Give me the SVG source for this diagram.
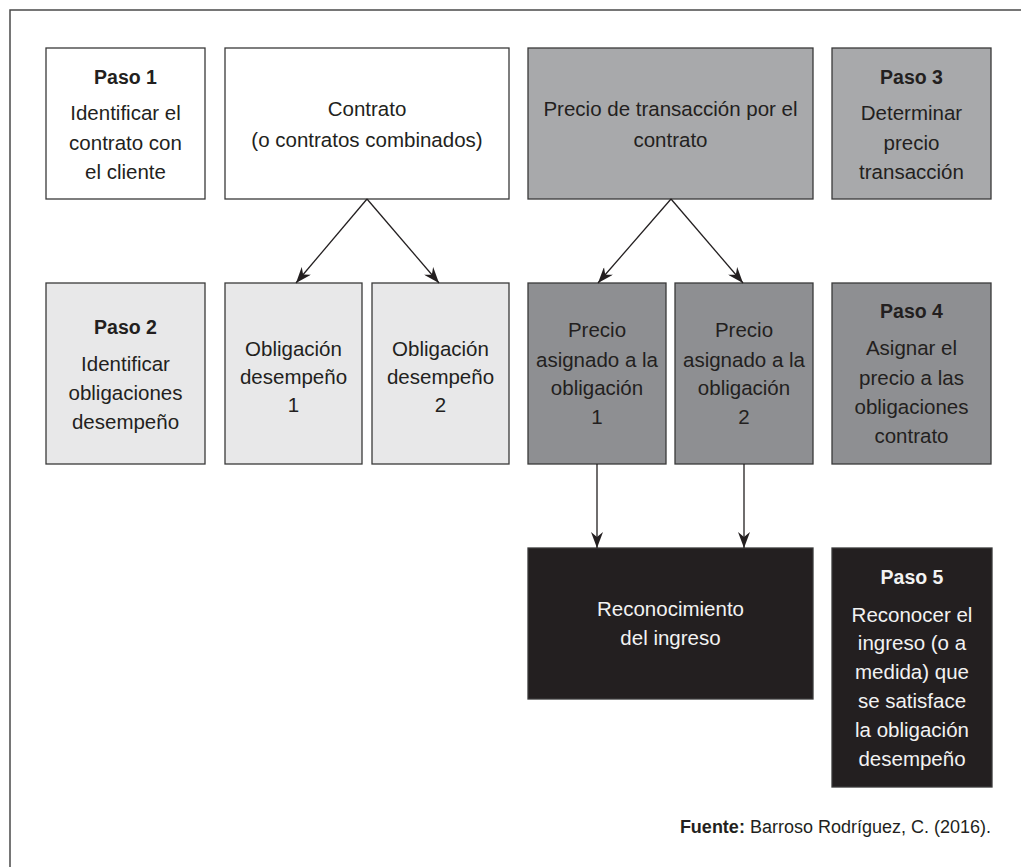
<svg xmlns="http://www.w3.org/2000/svg" width="1021" height="867" viewBox="0 0 1021 867">
<style>
.box{stroke:#3a3a3a;stroke-width:1.3}
.w{fill:#ffffff}
.l{fill:#e8e8e9}
.m{fill:#a8a9ab}
.d{fill:#8e8f92}
.k{fill:#231f20}
text{font-family:"Liberation Sans",Arial,sans-serif;font-size:20.5px;text-anchor:middle;fill:#231f20}
.h{font-weight:bold;font-size:19.5px}
.inv{fill:#f2f2f2}
.conn{stroke:#231f20;stroke-width:1.3;fill:none;marker-end:url(#ah)}
</style>
<defs>
<marker id="ah" viewBox="0 0 16 12" refX="16" refY="6" markerWidth="16" markerHeight="12" markerUnits="userSpaceOnUse" orient="auto">
<path d="M0,0 L16,6 L0,12 L5,6 z" fill="#231f20"/>
</marker>
</defs>
<rect width="1021" height="867" fill="#ffffff"/>
<path d="M10,867 L10,10 L1021,10" fill="none" stroke="#4a4a4a" stroke-width="1.5"/>

<g id="paso1">
<rect class="box w" x="46" y="48" width="159" height="151"/>
<text class="h" x="125.5" y="84">Paso 1</text>
<text x="125.5" y="120">Identificar el</text>
<text x="125.5" y="150">contrato con</text>
<text x="125.5" y="179">el cliente</text>
</g>
<g id="contrato">
<rect class="box w" x="225" y="48" width="284" height="151"/>
<text x="367" y="116">Contrato</text>
<text x="367" y="147">(o contratos combinados)</text>
</g>
<g id="precio-transaccion">
<rect class="box m" x="528" y="48" width="285" height="151"/>
<text x="670.5" y="116">Precio de transacción por el</text>
<text x="670.5" y="147">contrato</text>
</g>
<g id="paso3">
<rect class="box m" x="832" y="48" width="159" height="151"/>
<text class="h" x="911.5" y="84">Paso 3</text>
<text x="911.5" y="120">Determinar</text>
<text x="911.5" y="150">precio</text>
<text x="911.5" y="179">transacción</text>
</g>

<g id="paso2">
<rect class="box l" x="46" y="283" width="159" height="181"/>
<text class="h" x="125.5" y="334">Paso 2</text>
<text x="125.5" y="371">Identificar</text>
<text x="125.5" y="400">obligaciones</text>
<text x="125.5" y="429">desempeño</text>
</g>
<g id="obligacion1">
<rect class="box l" x="225" y="283" width="137" height="181"/>
<text x="293.5" y="356">Obligación</text>
<text x="293.5" y="384">desempeño</text>
<text x="293.5" y="412">1</text>
</g>
<g id="obligacion2">
<rect class="box l" x="372" y="283" width="137" height="181"/>
<text x="440.5" y="356">Obligación</text>
<text x="440.5" y="384">desempeño</text>
<text x="440.5" y="412">2</text>
</g>
<g id="precio1">
<rect class="box d" x="528" y="283" width="138" height="181"/>
<text x="597" y="337">Precio</text>
<text x="597" y="367">asignado a la</text>
<text x="597" y="395">obligación</text>
<text x="597" y="424">1</text>
</g>
<g id="precio2">
<rect class="box d" x="675" y="283" width="138" height="181"/>
<text x="744" y="337">Precio</text>
<text x="744" y="367">asignado a la</text>
<text x="744" y="395">obligación</text>
<text x="744" y="424">2</text>
</g>
<g id="paso4">
<rect class="box d" x="832" y="283" width="159" height="181"/>
<text class="h" x="911.5" y="318">Paso 4</text>
<text x="911.5" y="355">Asignar el</text>
<text x="911.5" y="385">precio a las</text>
<text x="911.5" y="414">obligaciones</text>
<text x="911.5" y="443">contrato</text>
</g>

<g id="reconocimiento">
<rect class="box k" x="528" y="548" width="285" height="151"/>
<text class="inv" x="670.5" y="616">Reconocimiento</text>
<text class="inv" x="670.5" y="645">del ingreso</text>
</g>
<g id="paso5">
<rect class="box k" x="832" y="548" width="160" height="239"/>
<text class="h inv" x="912" y="584">Paso 5</text>
<text class="inv" x="912" y="622">Reconocer el</text>
<text class="inv" x="912" y="650">ingreso (o a</text>
<text class="inv" x="912" y="679">medida) que</text>
<text class="inv" x="912" y="708">se satisface</text>
<text class="inv" x="912" y="737">la obligación</text>
<text class="inv" x="912" y="766">desempeño</text>
</g>

<g id="connectors">
<line class="conn" x1="367" y1="199" x2="296" y2="283"/>
<line class="conn" x1="367" y1="199" x2="439" y2="283"/>
<line class="conn" x1="671" y1="199" x2="598" y2="283"/>
<line class="conn" x1="671" y1="199" x2="743" y2="283"/>
<line class="conn" x1="597" y1="464" x2="597" y2="548"/>
<line class="conn" x1="744" y1="464" x2="744" y2="548"/>
</g>

<g id="fuente">
<text x="991" y="833" style="text-anchor:end;font-size:18px"><tspan font-weight="bold">Fuente:</tspan> Barroso Rodríguez, C. (2016).</text>
</g>
</svg>
